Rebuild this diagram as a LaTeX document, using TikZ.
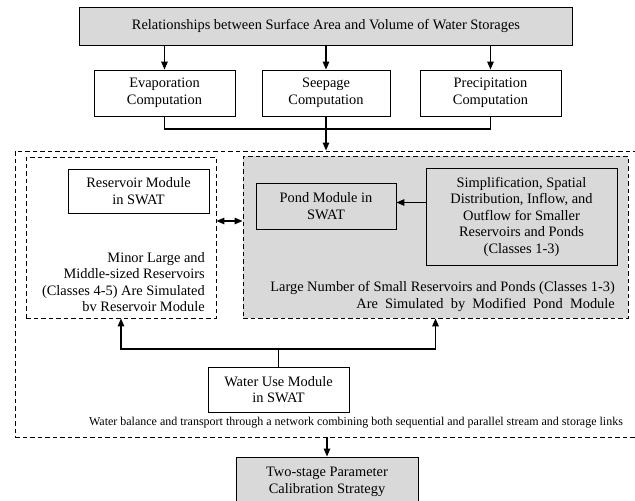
\documentclass[tikz,border=0pt]{standalone}
\usepackage{fontspec}
\setmainfont{Liberation Serif}
\usetikzlibrary{arrows.meta}

\tikzset{
  txt/.style={font=\fontsize{14.4}{16.5}\selectfont, align=center, inner sep=0pt},
  box/.style={txt, draw, line width=0.9pt},
  greybox/.style={box, fill=gray!30},
  area/.style={draw, line width=0.9pt, dash pattern=on 4.5pt off 3pt, inner sep=0pt},
  link/.style={line width=1.4pt, -{Triangle[length=8pt,width=6.5pt]}},
  dlink/.style={line width=1.4pt, {Triangle[length=8pt,width=6.5pt]}-{Triangle[length=8pt,width=6.5pt]}},
}

\begin{document}
\begin{tikzpicture}[x=1pt, y=-1pt]
  \useasboundingbox (0,0) rectangle (635,501);

  \node[area, minimum width=622pt, minimum height=286pt] (outer) at (326,294) {};
  \node[area, minimum width=190pt, minimum height=161pt] (resarea) at (121,237.5) {};
  \node[area, fill=gray!30, minimum width=385pt, minimum height=162pt] (pondarea) at (435.5,237) {};

  \node[greybox, minimum width=493pt, minimum height=38pt] (rel) at (326,26)
    {Relationships between Surface Area and Volume of Water Storages};

  \node[box, minimum width=141pt, minimum height=46pt] (evap) at (164.5,93) {Evaporation\\Computation};
  \node[box, minimum width=128pt, minimum height=46pt] (seep) at (326,93) {Seepage\\Computation};
  \node[box, minimum width=141pt, minimum height=46pt] (prec) at (490.5,93) {Precipitation\\Computation};

  \node[box, minimum width=141pt, minimum height=44pt] (resmod) at (138.5,191) {Reservoir Module\\in SWAT};
  \node[txt, anchor=east, align=right] (resnote) at (205,282)
    {Minor Large and\\Middle-sized Reservoirs\\(Classes 4-5) Are Simulated\\bv Reservoir Module};

  \node[greybox, minimum width=140pt, minimum height=46pt] (pondmod) at (326,206) {Pond Module in\\SWAT};
  \node[greybox, minimum width=191pt, minimum height=97pt] (simp) at (521.5,216.5)
    {Simplification, Spatial\\Distribution, Inflow, and\\Outflow for Smaller\\Reservoirs and Ponds\\(Classes 1-3)};
  \node[txt, anchor=east, align=right] (pondnote) at (615,296.5)
    {Large Number of Small Reservoirs and Ponds (Classes 1-3)\\Are\ \ Simulated\ \ by\ \ Modified\ \ Pond\ \ Module};

  \node[box, minimum width=141pt, minimum height=45pt] (wateruse) at (278.5,389.5) {Water Use Module\\in SWAT};
  \node[txt, font=\fontsize{12}{14}\selectfont] (network) at (356,423)
    {Water balance and transport through a network combining both sequential and parallel stream and storage links};

  \node[greybox, minimum width=182pt, minimum height=50pt] (calib) at (327,482) {Two-stage Parameter\\Calibration Strategy};

  \draw[link] (rel.south -| evap) -- (evap);
  \draw[link] (rel.south -| seep) -- (seep);
  \draw[link] (rel.south -| prec) -- (prec);

  \coordinate (join) at (seep.south |- 0,129);
  \draw[line width=1.4pt] (evap.south) |- (join) -| (prec.south);
  \draw[link] (seep.south) -- (outer.north -| seep);

  \draw[dlink] ([yshift=16.5pt]resarea.east) -- ([yshift=16pt]pondarea.west);
  \coordinate (pa) at ([yshift=3.5pt]pondmod.east);
  \draw[link] (pa -| simp.west) -- (pa);

  \coordinate (split) at (wateruse.north |- 0,349);
  \draw[line width=1.4pt] (wateruse.north) -- (split);
  \draw[link] (split) -| (resarea.south);
  \draw[link] (split) -| (pondarea.south);

  \draw[link] (outer.south -| calib) -- (calib);
\end{tikzpicture}
\end{document}
